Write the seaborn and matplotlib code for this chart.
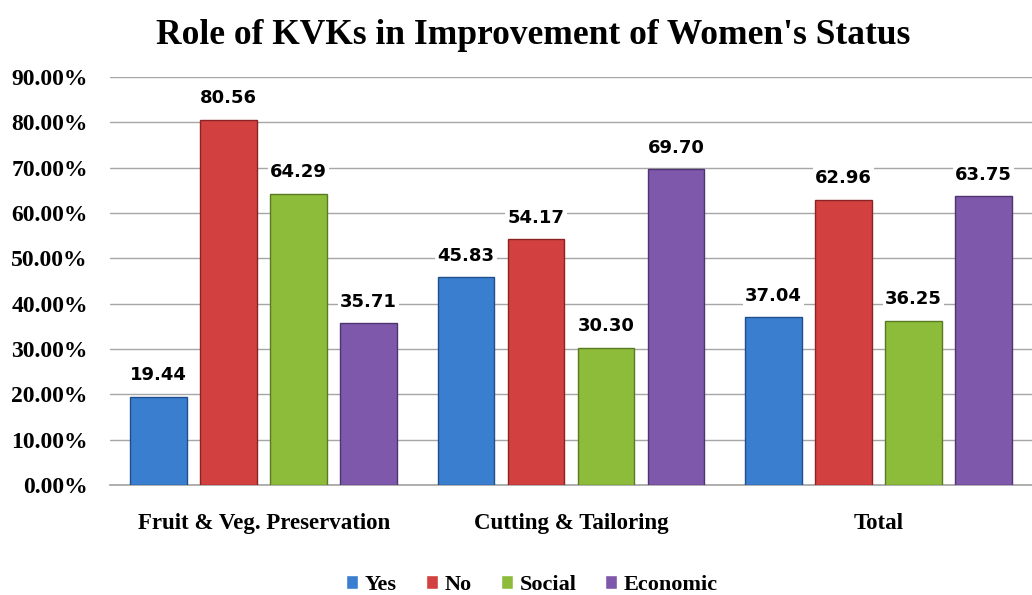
import pandas as pd
import matplotlib
matplotlib.use('Agg')
import matplotlib.pyplot as plt
import seaborn as sns
from matplotlib.ticker import FuncFormatter

categories = ['Fruit & Veg. Preservation', 'Cutting & Tailoring', 'Total']
series = ['Yes', 'No', 'Social', 'Economic']
yes_vals = [19.44, 45.83, 37.04]
no_vals = [80.56, 54.17, 62.96]
social_vals = [64.29, 30.30, 36.25]
economic_vals = [35.71, 69.70, 63.75]
colors = ['#3A7ED0', '#D2403F', '#8DBB3A', '#7E58AA']
edges = ['#1F4F8A', '#8A2323', '#5A7A22', '#4E3470']

rows = []
for name, vals in zip(series, [yes_vals, no_vals, social_vals, economic_vals]):
    for cat, v in zip(categories, vals):
        rows.append({'category': cat, 'series': name, 'value': v})
df = pd.DataFrame(rows)

sns.set_theme(style='white')
serif = ['Liberation Serif', 'DejaVu Serif']
plt.rcParams['font.family'] = serif
plt.rcParams['text.color'] = 'black'
plt.rcParams['xtick.color'] = 'black'
plt.rcParams['ytick.color'] = 'black'

fig = plt.figure(figsize=(10.32, 5.95), dpi=100)
ax = fig.add_axes([110 / 1032, 110 / 595, 1 - 110 / 1032, (485 - 77) / 595])

sns.barplot(data=df, x='category', y='value', hue='series', palette=colors,
            saturation=1, width=0.91, gap=0.19, ax=ax, legend=True, zorder=3)

for i, cont in enumerate(ax.containers):
    for bar in cont:
        bar.set_edgecolor(edges[i])
        bar.set_linewidth(1.0)
    ax.bar_label(cont, fmt='%.2f', padding=9, fontsize=13, fontweight='bold',
                 family='DejaVu Sans', color='black', zorder=4,
                 bbox=dict(facecolor='white', edgecolor='none', pad=1.5))

ax.set_ylim(0, 90)
ax.set_yticks(range(0, 91, 10))
ax.yaxis.set_major_formatter(FuncFormatter(lambda v, p: f'{v:.2f}%'))
ax.grid(axis='y', color='#A6A6A6', linewidth=1.0, zorder=0)
ax.set_axisbelow(True)
for s in ['top', 'right', 'left']:
    ax.spines[s].set_visible(False)
ax.spines['bottom'].set_color('#A6A6A6')
ax.tick_params(axis='y', length=0, pad=16, labelsize=17, labelcolor='black')
ax.tick_params(axis='x', length=0, pad=20, labelsize=16.5, labelcolor='black')
for lab in ax.get_yticklabels() + ax.get_xticklabels():
    lab.set_fontweight('bold')
ax.set_xlabel('')
ax.set_ylabel('')

# legend sits near the bottom edge, centred around x=532px
handles, labels = ax.get_legend_handles_labels()
ax.legend(handles, labels, loc='center', bbox_to_anchor=((532 - 110) / 922, -100 / 408),
          ncol=4, frameon=False, handlelength=0.55, handleheight=0.55,
          handletextpad=0.3, columnspacing=1.3, labelcolor='black',
          prop={'family': serif, 'weight': 'bold', 'size': 16})

fig.suptitle("Role of KVKs in Improvement of Women's Status", x=533 / 1032, y=1 - 36 / 595,
             va='center', fontsize=25.5, fontweight='bold', family=serif, color='black')

fig.savefig('out.png', dpi=100)
